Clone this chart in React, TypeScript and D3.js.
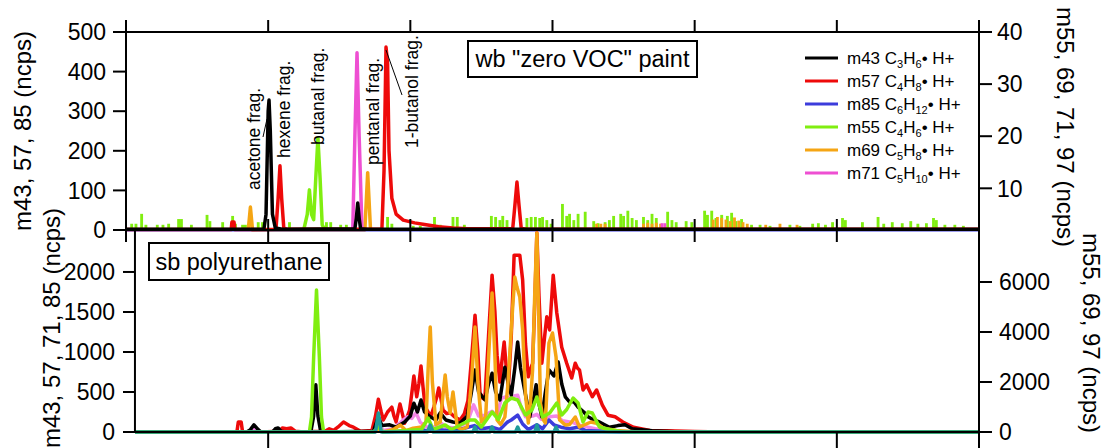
import * as d3 from 'd3'

// x in arbitrary run time units; y in ncps
const xTicks = [0, 10, 20, 30, 40, 50, 60]
const topLeftTicks = [0, 100, 200, 300, 400, 500]
const topRightTicks = [10, 20, 30, 40]
const botLeftTicks = [0, 500, 1000, 1500, 2000]
const botRightTicks = [0, 2000, 4000, 6000]

// ---- top panel: wb "zero VOC" paint ----
const topM43: [number, number][] = [[0,2],[9.7,2],[9.85,40],[10.0,300],[10.06,328],[10.15,250],[10.3,40],[10.5,5],[11,2],[16.1,3],[16.2,30],[16.3,68],[16.4,30],[16.5,3],[17,2],[60,2]]
const topM57: [number, number][] = [[0,1],[7.4,1],[7.45,20],[7.6,20],[7.65,1],[10.55,2],[10.7,80],[10.83,162],[10.95,80],[11.1,5],[11.3,2],[18.0,2],[18.15,150],[18.29,462],[18.4,420],[18.5,200],[18.7,80],[19.0,40],[19.5,25],[20.3,18],[21.0,14],[22,8],[23,5],[24,3],[27.2,3],[27.35,60],[27.5,121],[27.65,60],[27.8,4],[28.2,2],[60,2]]
const topM85: [number, number][] = [[0,-1],[60,-1]]
const topM55Peak: [number, number][] = [[12.5,2],[12.75,5],[12.9,9.7],[13.05,5],[13.2,4],[13.35,12],[13.5,19.7],[13.65,12],[13.8,3],[14,2]]
const topM69Peak: [number, number][] = [[8.6,2],[8.75,6.4],[8.9,2],[16.8,2],[17.0,13],[17.2,2]]
const topM71Peak: [number, number][] = [[15.95,2],[16.1,20],[16.25,36],[16.4,20],[16.6,2]]
const topM55Noise: [number, number][] = [[0.4,3.2],[0.7,3.2],[1.1,5.1],[1.4,3],[2.2,3],[2.6,3],[3.0,3.2],[3.7,4.1],[3.9,4.1],[4.6,3],[5.7,4.9],[5.9,3.7],[6.8,3.5],[7.5,4.7],[7.7,3.2],[8.2,3],[8.4,3],[9.3,3.5],[9.6,3.5],[11.5,3.5],[14.1,3.5],[14.4,3.5],[15.1,3],[15.5,3],[18.4,4.5],[18.7,3.2],[20.2,2.8],[20.7,2.8],[21.7,4.5],[22.1,3],[23.0,4.5],[23.3,4.5],[23.8,3],[25.7,4.7],[26.0,4.5],[26.3,3.9],[26.5,4.7],[26.8,3.9],[28.2,4.3],[28.5,4.5],[28.8,4.5],[29.1,4.3],[29.3,4.5],[29.6,3.9],[29.9,3.2],[30.7,7.0],[31.0,4.7],[31.2,5.1],[31.5,3.9],[31.8,5.1],[32.3,5.5],[32.9,3.7],[33.2,3.3],[33.7,3.5],[34.0,3.9],[34.3,4.7],[34.8,5.1],[35.0,4.7],[35.3,5.7],[35.6,4.3],[35.9,3.9],[36.4,4.5],[36.7,3.9],[37.0,5.1],[37.3,4.3],[38.1,5.5],[38.4,3.9],[38.7,3.5],[39.4,3.7],[39.8,3.5],[40.7,5.7],[40.9,4.9],[41.2,5.7],[41.5,4.3],[41.9,4.9],[42.3,4.7],[42.6,5.3],[42.9,3.7],[43.3,4.1],[44.0,3],[44.6,3],[45.3,2.8],[46.7,3],[47.4,2.8],[48.3,3.2],[48.7,3.3],[49.2,3],[49.7,3.5],[50.4,4.3],[50.6,3.9],[51.8,3.5],[52.9,4.5],[53.3,3.2],[53.9,3.5],[54.6,3.3],[55.2,3.7],[55.7,3.2],[56.3,3.3],[56.8,4.3],[57.0,3.9],[57.6,3],[58.3,3],[58.9,2.8]]
const topM69Noise: [number, number][] = [[33.1,3.2],[33.4,3.2],[33.7,3.2],[36.4,3.2],[36.7,3.4],[37.0,3.2],[37.3,3.4],[37.6,3.2],[41.3,4.0],[41.6,4.5],[41.9,4.3],[42.2,4.0],[42.5,3.7],[42.8,4.4],[43.1,3.8],[43.4,3.5],[43.7,3.2],[45.0,3.0],[46.0,3.2],[47.2,3.0]]
const topM71Noise: [number, number][] = [[37.7,3.3],[37.9,3.3]]

// ---- bottom panel: sb polyurethane ----
const botM57: [number, number][] = [[0.6,0],[7.8,0],[7.9,125],[8.1,125],[8.2,0],[9.5,0],[10.8,10],[11.0,50],[11.3,40],[11.6,50],[11.9,10],[12.5,0],[13.0,5],[14.0,10],[14.3,40],[14.6,20],[14.9,60],[15.3,125],[15.7,80],[16.0,60],[16.5,10],[17.3,20],[17.55,200],[17.75,410],[17.95,250],[18.1,150],[18.4,250],[18.7,310],[18.85,200],[19.0,125],[19.15,250],[19.27,350],[19.45,220],[19.6,110],[19.8,200],[19.95,275],[20.1,480],[20.25,700],[20.45,440],[20.6,600],[20.75,825],[20.9,550],[21.05,310],[21.25,250],[21.45,200],[21.65,310],[21.85,430],[22.0,550],[22.15,420],[22.3,275],[22.55,230],[22.8,240],[23.1,190],[23.5,150],[23.8,230],[24.05,390],[24.3,900],[24.55,1460],[24.75,1000],[24.9,490],[25.1,420],[25.25,440],[25.5,1200],[25.75,1960],[25.95,1500],[26.1,960],[26.3,625],[26.45,900],[26.6,1125],[26.75,800],[26.9,560],[27.1,1200],[27.3,2210],[27.7,2210],[27.9,1900],[28.1,1100],[28.3,690],[28.45,780],[28.6,860],[28.75,1600],[28.9,2490],[29.05,1700],[29.25,860],[29.45,1200],[29.6,1440],[29.8,1275],[30.05,1960],[30.3,1490],[30.65,1060],[31.0,860],[31.35,675],[31.6,860],[31.75,800],[31.9,775],[32.15,525],[32.4,590],[32.8,440],[33.1,525],[33.5,340],[33.9,210],[34.4,190],[34.95,125],[35.7,60],[36.85,20],[38,15],[40,5],[42,0],[60,0]]
const botM43: [number, number][] = [[0.6,0],[8.5,0],[8.75,30],[9.0,90],[9.3,30],[9.5,0],[10.3,0],[10.5,40],[10.7,50],[10.9,10],[11.2,0],[13.0,0],[13.2,200],[13.35,590],[13.5,200],[13.7,0],[17.4,10],[17.75,190],[18.0,80],[18.55,90],[19.0,60],[19.6,125],[20.0,200],[20.25,360],[20.5,250],[20.75,400],[21.0,250],[21.4,190],[21.8,150],[22.1,240],[22.5,150],[23.0,125],[23.5,110],[24.0,200],[24.3,500],[24.55,775],[24.8,500],[25.25,400],[25.5,600],[25.75,735],[26.0,500],[26.3,400],[26.65,810],[26.9,600],[27.1,460],[27.35,800],[27.55,1125],[27.75,800],[28.0,560],[28.4,190],[28.65,400],[28.85,590],[29.05,350],[29.25,190],[29.5,500],[29.75,775],[30.1,700],[30.4,875],[30.65,600],[30.9,440],[31.2,375],[31.5,380],[31.8,310],[32.2,250],[32.5,190],[32.9,150],[33.3,125],[34.0,60],[34.6,80],[35.1,90],[35.6,40],[37,15],[39,0],[60,0]]
const botM71: [number, number][] = [[0.6,0],[8.7,0],[9.0,60],[9.3,0],[17.3,0],[17.75,90],[18.1,20],[18.8,40],[19.5,150],[19.8,190],[20.1,170],[20.4,240],[20.7,120],[21.2,60],[21.6,50],[22.1,120],[22.5,60],[23.2,50],[24.0,120],[24.45,340],[24.8,200],[25.25,210],[25.75,260],[26.1,200],[26.4,420],[26.7,440],[27.0,420],[27.3,450],[27.55,460],[27.8,300],[28.1,190],[28.6,200],[28.9,220],[29.2,160],[29.8,190],[30.3,200],[30.7,140],[31.4,120],[32.0,80],[33.0,40],[34.5,10],[36,0],[60,0]]
const botM85: [number, number][] = [[0.6,0],[17.5,0],[17.75,40],[18.1,0],[20.2,20],[20.7,40],[21.2,10],[22.0,30],[23.0,10],[24.5,80],[25.0,40],[25.75,60],[26.3,30],[26.8,120],[27.1,150],[27.55,210],[27.9,100],[28.3,30],[28.9,90],[29.3,40],[29.75,150],[30.1,90],[30.6,60],[31.2,40],[31.8,60],[32.3,20],[33.5,10],[35,0],[60,0]]
const botM69: [number, number][] = [[0.6,0],[17.4,0],[17.75,80],[18.1,0],[18.8,100],[19.3,280],[19.7,50],[20.2,150],[20.8,200],[21.1,400],[21.25,2500],[21.4,4200],[21.55,2000],[21.8,300],[22.1,400],[22.3,1500],[22.45,2280],[22.6,1400],[22.8,760],[23.0,1600],[23.15,900],[23.3,200],[23.6,100],[24.0,200],[24.3,2000],[24.55,4200],[24.75,2000],[25.0,400],[25.3,600],[25.55,3500],[25.75,5560],[25.95,3000],[26.1,480],[26.35,300],[26.65,600],[26.85,1800],[27.0,3160],[27.2,5000],[27.35,6200],[27.5,5800],[27.7,5400],[27.9,4080],[28.1,1500],[28.3,360],[28.45,1200],[28.6,2480],[28.75,5500],[28.9,7960],[29.05,4000],[29.15,1160],[29.35,500],[29.5,360],[29.65,2200],[29.75,3560],[30.0,3960],[30.25,3000],[30.4,1500],[30.5,480],[30.9,280],[31.2,300],[31.6,600],[31.9,200],[32.3,300],[32.7,400],[33.1,350],[33.6,150],[34.5,60],[36,0],[60,0]]
const botM55: [number, number][] = [[0.6,0],[12.9,0],[13.05,600],[13.2,3000],[13.4,5680],[13.6,3000],[13.75,600],[13.9,0],[17.4,0],[17.75,200],[18.1,0],[20.8,100],[21.25,560],[21.6,100],[22.45,280],[22.9,100],[24.2,480],[24.55,480],[25.0,200],[25.75,800],[26.2,500],[26.65,1160],[27.1,1360],[27.55,1280],[27.9,900],[28.1,680],[28.55,880],[28.9,1400],[29.3,600],[29.8,760],[30.3,1160],[30.65,680],[31.0,900],[31.45,1360],[31.8,1160],[32.15,400],[32.5,800],[32.8,760],[33.3,200],[34.0,100],[35,0],[60,0]]
const botM97: [number, number][] = [[0.6,0],[17.55,0],[17.75,760],[17.95,0],[21.2,0],[21.4,280],[21.6,0],[24.4,0],[24.55,200],[24.7,0],[25.6,0],[25.75,200],[25.9,0],[27.4,0],[27.55,200],[27.7,0],[28.75,0],[28.9,280],[29.05,0],[30.1,0],[30.25,200],[30.4,0],[60,0]]

const legendItems = [
  { m: 'm43', c: 'C', a: '3', h: 'H', b: '6', color: '#000000' },
  { m: 'm57', c: 'C', a: '4', h: 'H', b: '8', color: '#ee0a0a' },
  { m: 'm85', c: 'C', a: '6', h: 'H', b: '12', color: '#3c3cdc' },
  { m: 'm55', c: 'C', a: '4', h: 'H', b: '6', color: '#80ee10' },
  { m: 'm69', c: 'C', a: '5', h: 'H', b: '8', color: '#f5a514' },
  { m: 'm71', c: 'C', a: '5', h: 'H', b: '10', color: '#ee4fd2' },
]

const fragLabels = [
  { text: 'acetone frag.', t: 9.0, y: 190 },
  { text: 'hexene frag.', t: 11.1, y: 158 },
  { text: 'butanal frag.', t: 13.5, y: 145 },
  { text: 'pentanal frag.', t: 17.35, y: 165 },
  { text: '1-butanol frag.', t: 20.1, y: 148 },
]

const C = {
  black: '#000000', red: '#ee0a0a', blue: '#3c3cdc', green: '#80ee10',
  orange: '#f5a514', magenta: '#ee4fd2', pink: '#f286e6', teal: '#1f9a9a',
}

const FONT = '"Liberation Sans", Arial, sans-serif'

export default function App() {
  const W = 1104, H = 448
  const x = d3.scaleLinear().domain([0, 60]).range([126, 979])
  const topL = d3.scaleLinear().domain([0, 500]).range([230, 32])
  const topR = d3.scaleLinear().domain([2, 40]).range([230, 32])
  const botL = d3.scaleLinear().domain([0, 2512]).range([432, 231])
  const botR = d3.scaleLinear().domain([0, 8040]).range([432, 231])
  const botX0 = x(0.63)

  const lineOf = (y: d3.ScaleLinear<number, number>) =>
    d3.line<[number, number]>().x(d => x(d[0])).y(d => y(d[1]))

  const bars = (data: [number, number][], color: string, key: string) =>
    data.map(([t, v], i) => (
      <rect key={key + i} x={x(t - 0.1)} width={x(0.2) - x(0)} y={topR(v)}
        height={topR(2) - topR(v)} fill={color} />
    ))

  const trace = (data: [number, number][], y: d3.ScaleLinear<number, number>, color: string, w = 3) => (
    <path d={lineOf(y)(data) ?? ''} fill="none" stroke={color} strokeWidth={w} strokeLinejoin="round" />
  )

  const axisStroke = { stroke: '#000', strokeWidth: 2 }

  return (
    <svg width={W} height={H} style={{ position: 'absolute', left: 0, top: 0, background: '#fff' }}
      fontFamily={FONT}>
      <defs>
        <clipPath id="clipTop"><rect x={126} y={32} width={853} height={201} /></clipPath>
        <clipPath id="clipBot"><rect x={botX0} y={231} width={979 - botX0} height={203} /></clipPath>
      </defs>

      {/* top panel data */}
      <g clipPath="url(#clipTop)">
        {bars(topM55Noise, C.green, 'g')}
        {bars(topM69Noise, C.orange, 'o')}
        {bars(topM71Noise, C.magenta, 'm')}
        {trace(topM55Peak, topR, C.green, 3.5)}
        {trace(topM69Peak, topR, C.orange, 3.5)}
        {trace(topM71Peak, topR, C.magenta, 3.5)}
        {trace(topM85, topL, C.blue, 2)}
        {trace(topM57, topL, C.red, 3.5)}
        {trace(topM43, topL, C.black, 3.5)}
      </g>

      {/* bottom panel data */}
      <g clipPath="url(#clipBot)">
        {trace(botM57, botL, C.red, 3.5)}
        {trace(botM71, botL, C.pink, 3.5)}
        {trace(botM85, botL, C.blue, 3.5)}
        {trace(botM43, botL, C.black, 3.5)}
        {trace(botM69, botR, C.orange, 3.5)}
        {trace(botM55, botR, C.green, 3.5)}
        {trace(botM97, botR, C.teal, 3.5)}
      </g>

      {/* top panel frame */}
      <line x1={126} x2={126} y1={32} y2={230} {...axisStroke} />
      <line x1={979} x2={979} y1={32} y2={432} {...axisStroke} />
      <line x1={125} x2={980} y1={32} y2={32} {...axisStroke} />
      <line x1={125} x2={980} y1={230} y2={230} {...axisStroke} />
      {xTicks.map(t => (
        <g key={'xt' + t}>
          <line x1={x(t)} x2={x(t)} y1={20} y2={32} {...axisStroke} />
          <line x1={x(t)} x2={x(t)} y1={219} y2={242} {...axisStroke} />
          {t > 0 && <line x1={x(t)} x2={x(t)} y1={432} y2={448} {...axisStroke} />}
        </g>
      ))}
      {topLeftTicks.map(v => (
        <g key={'tl' + v}>
          <line x1={113} x2={126} y1={topL(v)} y2={topL(v)} {...axisStroke} />
          <text x={106} y={topL(v)} dy="0.36em" textAnchor="end" fontSize={23}>{v}</text>
        </g>
      ))}
      {topRightTicks.map(v => (
        <g key={'tr' + v}>
          <line x1={979} x2={992} y1={topR(v)} y2={topR(v)} {...axisStroke} />
          <text x={997} y={topR(v)} dy="0.36em" textAnchor="start" fontSize={23}>{v}</text>
        </g>
      ))}

      {/* bottom panel frame */}
      <line x1={botX0} x2={botX0} y1={231} y2={433} {...axisStroke} />
      <line x1={botX0} x2={980} y1={432} y2={432} {...axisStroke} />
      {botLeftTicks.map(v => (
        <g key={'bl' + v}>
          <line x1={123} x2={botX0} y1={botL(v)} y2={botL(v)} {...axisStroke} />
          <text x={115} y={botL(v)} dy="0.36em" textAnchor="end" fontSize={23}>{v}</text>
        </g>
      ))}
      {botRightTicks.map(v => (
        <g key={'br' + v}>
          <line x1={979} x2={992} y1={botR(v)} y2={botR(v)} {...axisStroke} />
          <text x={999} y={botR(v)} dy="0.36em" textAnchor="start" fontSize={23}>{v}</text>
        </g>
      ))}

      {/* axis titles */}
      <text transform="translate(23,131) rotate(-90)" textAnchor="middle" dy="0.35em" fontSize={24}>m43, 57, 85 (ncps)</text>
      <text transform="translate(52,328) rotate(-90)" textAnchor="middle" dy="0.35em" fontSize={24}>m43, 57, 71, 85 (ncps)</text>
      <text transform="translate(1065,127) rotate(90)" textAnchor="middle" dy="0.35em" fontSize={24}>m55, 69, 71, 97 (ncps)</text>
      <text transform="translate(1091,333) rotate(90)" textAnchor="middle" dy="0.35em" fontSize={24}>m55, 69, 97 (ncps)</text>

      {/* panel labels */}
      <rect x={468} y={41} width={229} height={36} fill="#fff" stroke="#000" strokeWidth={2} />
      <text x={582.5} y={59} dy="0.36em" textAnchor="middle" fontSize={23.5}>wb "zero VOC" paint</text>
      <rect x={149} y={243} width={180} height={37} fill="#fff" stroke="#000" strokeWidth={2} />
      <text x={239} y={261.5} dy="0.36em" textAnchor="middle" fontSize={23.5}>sb polyurethane</text>

      {/* fragment annotations */}
      {fragLabels.map(f => (
        <text key={f.text} transform={`translate(${x(f.t)},${f.y}) rotate(-90)`} dy="0.35em" fontSize={17.5}>{f.text}</text>
      ))}
      <line x1={263} y1={137} x2={267} y2={119} stroke="#000" strokeWidth={1} />
      <line x1={386} y1={50} x2={402} y2={95} stroke="#000" strokeWidth={1} />

      {/* legend */}
      {legendItems.map((l, i) => {
        const y = 58 + i * 23
        return (
          <g key={l.m}>
            <line x1={805} x2={838} y1={y} y2={y} stroke={l.color} strokeWidth={3} />
            <text x={847} y={y} dy="0.36em" fontSize={17}>
              {l.m} {l.c}<tspan fontSize={11} dy={4}>{l.a}</tspan>
              <tspan dy={-4}>{l.h}</tspan><tspan fontSize={11} dy={4}>{l.b}</tspan>
              <tspan dy={-4}>• H+</tspan>
            </text>
          </g>
        )
      })}
    </svg>
  )
}
